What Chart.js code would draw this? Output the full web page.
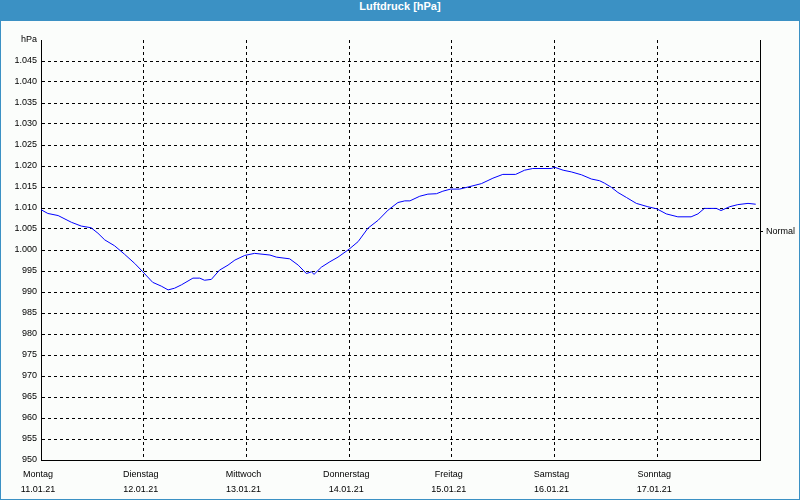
<!DOCTYPE html>
<html lang="de">
<head>
<meta charset="utf-8">
<title>Luftdruck [hPa]</title>
<script src="https://cdn.jsdelivr.net/npm/chart.js@4.4.1/dist/chart.umd.min.js"></script>
<style>
    html, body { margin: 0; padding: 0; background: #ffffff; }
    #fenster { position: relative; width: 800px; height: 500px; background: #fbfdfb; }
    #titel {
        position: absolute; left: 0; top: 0; width: 800px; height: 21px; line-height: 20px;
        background: #3b91c4; color: #ffffff; text-align: center;
        font: bold 11px "Liberation Sans", Arial, sans-serif;
    }
    #rahmen {
        position: absolute; left: 0; top: 21px; width: 798px; height: 478px;
        border: 1px solid #3b91c4; border-top: none;
    }
    #chartLuftdruck { display: block; }
</style>
</head>
<body>
<div id="fenster">
    <div id="titel">Luftdruck [hPa]</div>
    <div id="rahmen">
        <canvas id="chartLuftdruck" width="798" height="478"></canvas>
    </div>
</div>
<script>
// Wochentage und Datum fuer die x-Achse (ein Tick pro Tag, 24 h Abstand)
const tage = ['Montag', 'Dienstag', 'Mittwoch', 'Donnerstag', 'Freitag', 'Samstag', 'Sonntag'];
const daten = ['11.01.21', '12.01.21', '13.01.21', '14.01.21', '15.01.21', '16.01.21', '17.01.21'];

const stunden = [
    0, 1.6, 4.0, 7.1, 9.4, 11.7, 13.3, 14.9, 17.2, 19.5, 21.9, 23.8, 26.1, 28.1, 29.7, 31.2, 32.8,
    35.5, 37.1, 38.2, 39.8, 41.7, 43.7, 45.3, 47.6, 49.9, 53.5, 55.0, 58.1, 60.1, 62.0, 63.2, 63.8,
    65.5, 67.5, 69.4, 72.0, 74.1, 76.4, 78.8, 81.1, 83.4, 85.0, 86.2, 88.5, 90.4, 92.4, 93.9, 95.7,
    97.8, 99.8, 102.9, 105.6, 107.9, 110.9, 113.0, 114.9, 119.2, 120.0, 122.0, 123.9, 126.3, 128.6,
    130.5, 131.7, 133.3, 134.8, 136.8, 139.1, 141.8, 143.9, 146.1, 148.8, 151.9, 153.5, 155.0,
    157.8, 158.9, 160.9, 162.8, 165.2, 167.0
];
const druck = [
    1009.6, 1008.7, 1008.2, 1006.6, 1005.7, 1005.3, 1004.0, 1002.4, 1001.0, 999.0, 996.8, 994.8, 992.3, 991.4, 990.5, 990.9, 991.7,
    993.3, 993.3, 992.8, 993.0, 995.2, 996.4, 997.6, 998.7, 999.2, 998.8, 998.3, 997.9, 996.4, 994.4, 994.8, 994.2,
    995.9, 997.2, 998.3, 1000.2, 1002.0, 1005.2, 1007.1, 1009.5, 1011.3, 1011.7, 1011.7, 1012.8, 1013.3, 1013.4, 1014.0, 1014.5,
    1014.5, 1015.0, 1015.8, 1017.1, 1018.0, 1018.0, 1019.0, 1019.4, 1019.4, 1019.7, 1019.0, 1018.6, 1017.9, 1016.9,
    1016.5, 1015.9, 1014.9, 1013.7, 1012.5, 1011.1, 1010.3, 1009.8, 1008.6, 1007.9, 1007.9, 1008.6, 1009.9,
    1009.9, 1009.4, 1010.3, 1010.8, 1011.1, 1010.9
];

// Skala der y-Achse und Lage der Markierung "Normal" rechts
const druckMin = 950;
const druckMax = 1050;
const druckSchritt = 5;
const normalDruck = 1004.5;
const normalText = 'Normal';
const einheit = 'hPa';

const schrift = { family: "'Liberation Sans', Arial, sans-serif", size: 9 };
const transparent = 'rgba(0,0,0,0)';

// 1000 -> "1.000" (deutsches Tausendertrennzeichen)
function formatDruck(wert) {
    if (wert < 1000) {
        return String(wert);
    }
    return '1.' + String(wert - 1000).padStart(3, '0');
}

const punkte = stunden.map((h, i) => ({ x: h, y: druck[i] }));

const ctx = document.getElementById('chartLuftdruck').getContext('2d');

new Chart(ctx, {
    type: 'line',
    data: {
        datasets: [{
            label: 'Luftdruck',
            data: punkte,
            borderColor: '#0000ff',
            borderWidth: 1,
            pointRadius: 0,
            tension: 0,
            fill: false,
            yAxisID: 'y'
        }]
    },
    options: {
        responsive: false,
        animation: false,
        layout: { padding: { top: 19, left: 0, right: 0, bottom: 0 } },
        plugins: {
            legend: { display: false },
            tooltip: { enabled: false }
        },
        scales: {
            x: {
                type: 'linear',
                min: 0,
                max: 168,
                afterFit: (scale) => { scale.height = 39; },
                ticks: {
                    stepSize: 24,
                    autoSkip: false,
                    maxRotation: 0,
                    padding: 7,
                    labelOffset: -3,
                    color: '#000000',
                    font: { ...schrift, lineHeight: 15 / 9 },
                    callback: function(wert) {
                        const i = Math.round(wert / 24);
                        return i < tage.length ? [tage[i], daten[i]] : '';
                    }
                },
                grid: {
                    drawTicks: false,
                    color: (c) => (c.tick && (c.tick.value === 0 || c.tick.value === 168)) ? transparent : '#000000'
                },
                border: { display: true, color: '#000000', width: 1, dash: [3, 3] }
            },
            y: {
                position: 'left',
                min: druckMin,
                max: druckMax,
                afterFit: (scale) => { scale.width = 40; },
                ticks: {
                    stepSize: druckSchritt,
                    padding: 4,
                    color: '#000000',
                    font: schrift,
                    callback: function(wert) {
                        if (wert === druckMax) {
                            return einheit;
                        }
                        return formatDruck(wert);
                    }
                },
                grid: {
                    drawTicks: false,
                    color: (c) => (c.tick && (c.tick.value === druckMax || c.tick.value === druckMin)) ? transparent : '#000000'
                },
                border: { display: true, color: '#000000', width: 1, dash: [3, 3] }
            },
            y2: {
                position: 'right',
                min: druckMin,
                max: druckMax,
                afterFit: (scale) => { scale.width = 39; },
                afterBuildTicks: (scale) => { scale.ticks = [{ value: normalDruck }]; },
                ticks: {
                    padding: 3,
                    color: '#000000',
                    font: schrift,
                    callback: () => normalText
                },
                grid: {
                    drawOnChartArea: false,
                    drawTicks: true,
                    tickLength: 3,
                    color: '#000000'
                },
                border: { display: true, color: '#000000', width: 1 }
            }
        }
    }
});
</script>
</body>
</html>
